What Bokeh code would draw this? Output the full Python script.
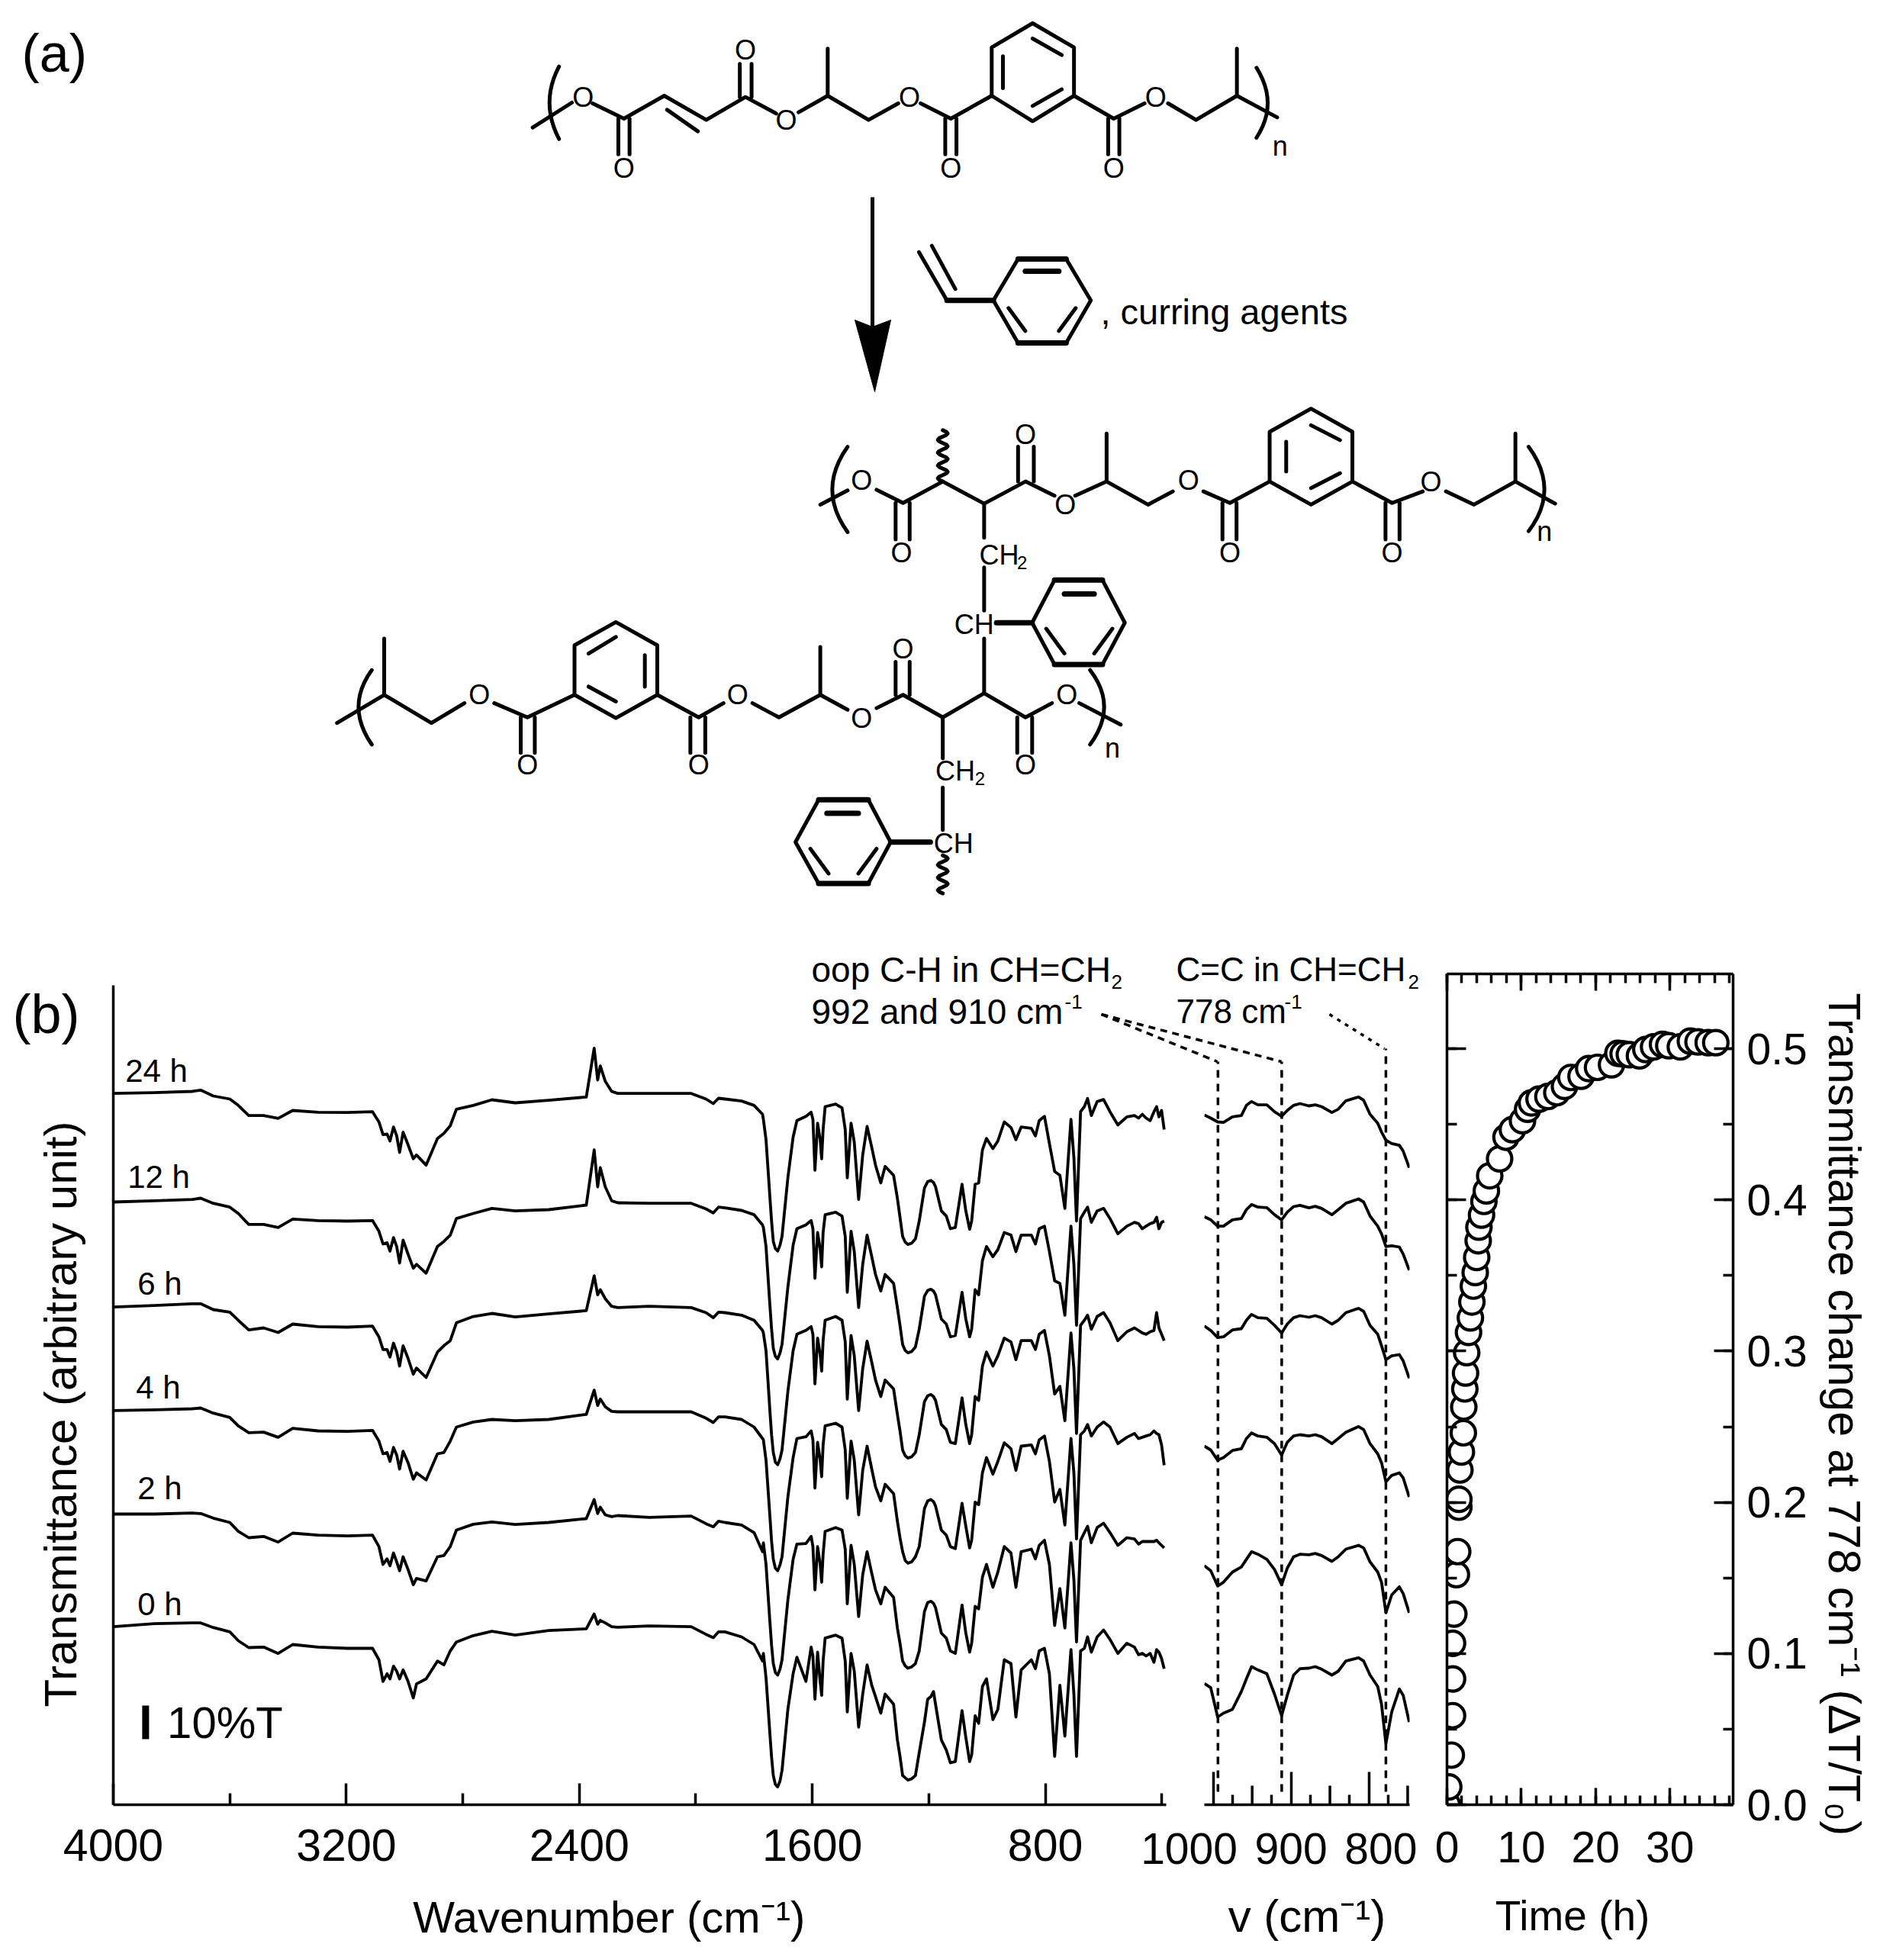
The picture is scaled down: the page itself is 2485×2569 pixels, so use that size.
import numpy as np
from bokeh.plotting import figure
from bokeh.models import Range1d, FixedTicker, LinearAxis, SingleIntervalTicker, CustomJSTickFormatter, NumeralTickFormatter
from bokeh.core.properties import value
from bokeh.embed import file_html
from bokeh.resources import INLINE

FONT = "Liberation Sans"
W, H = 2469, 2553
NB = "\u00a0"

# ---------- spectra: wavenumber (cm-1) and transmittance (arbitrary unit, 130 units = 10 %T)
WN_HIGH = [4000,3859,3729,3700,3657,3600,3571,3535,3484,3434,3384,3297,3196,3110,3088,3074,3060,3050,3038,3027,
           3017,3005,2988,2970,2959,2926,2887,2865,2843,2822,2764,2700,2620,2505,2376,2349,2337,2328,2311,2289,
           2268,2160,2016,1965,1940,1922,1900,1843,1800,1771]
WN_FP = [1768,1759,1746,1734,1719,1704,1684,1666,1653,1622,1604,1598,1591,1582,1573,1568,1563,1556,1520,1498,
         1487,1480,1467,1456,1441,1427,1412,1396,1383,1365,1350,1321,1308,1290,1272,1246,1233,1215,1193,1177,
         1157,1140,1126,1109,1086,1073,1060,1053,1041,1029,1016,1002,980,963,941,918,901,883,848,834,
         821,803,786,768,750,733,712,702,693,679,666,655,642,622,600,578,551,520,494,480,
         467,454,440,427,418,410,401,392]
WN_EXTRA = [1740,1727,1711,1299,1281,1259,1204,1184]

T24_HIGH = [2797,2800,2805,2810,2787,2775,2750,2710,2710,2699,2730,2723,2722,2725,2685,2635,2637,2610,2665,2630,
            2565,2645,2595,2540,2555,2515,2620,2640,2670,2735,2750,2772,2760,2770,2783,2975,2850,2905,2845,2805,
            2797,2797,2797,2775,2757,2778,2775,2767,2750,2715]
T12_HIGH = [2370,2375,2380,2385,2365,2350,2325,2282,2282,2270,2303,2297,2295,2297,2255,2205,2210,2177,2230,2195,
            2130,2220,2165,2110,2125,2090,2195,2215,2240,2305,2325,2345,2335,2340,2358,2575,2430,2505,2430,2375,
            2367,2365,2365,2343,2327,2350,2347,2337,2320,2280]
T6_HIGH = [1957,1963,1970,1970,1947,1937,1905,1867,1875,1857,1890,1880,1878,1882,1840,1790,1790,1760,1815,1780,
           1725,1805,1755,1693,1717,1680,1780,1805,1825,1895,1920,1932,1918,1930,1943,2080,2005,2025,1990,1960,
           1955,1960,1955,1935,1915,1937,1935,1925,1905,1865]
T4_HIGH = [1550,1553,1557,1560,1540,1523,1490,1463,1465,1445,1480,1470,1468,1472,1430,1380,1385,1350,1405,1375,
           1320,1390,1345,1280,1305,1277,1380,1385,1430,1485,1505,1515,1510,1515,1535,1630,1570,1595,1565,1547,
           1545,1545,1545,1520,1503,1525,1525,1515,1485,1440]
T2_HIGH = [1143,1143,1147,1145,1127,1110,1075,1050,1055,1033,1068,1060,1057,1060,1015,945,967,940,990,955,
           920,975,925,865,890,880,975,980,1015,1080,1103,1112,1102,1110,1125,1200,1145,1170,1140,1133,
           1137,1130,1135,1105,1093,1115,1110,1100,1070,995]
T0_HIGH = [700,712,715,715,697,680,645,618,620,595,630,620,615,615,570,485,515,495,545,525,
           495,530,485,420,475,495,565,550,605,640,665,682,667,685,692,750,710,725,715,700,
           698,703,700,670,657,680,680,660,630,565]

T24_FP = [2695,2615,2395,2215,2177,2235,2465,2625,2690,2707,2723,2695,2495,2680,2615,2540,2655,2745,2755,2740,
          2655,2465,2680,2605,2380,2555,2667,2585,2515,2445,2510,2475,2385,2235,2203,2225,2295,2425,2455,2430,
          2335,2315,2265,2270,2440,2335,2263,2295,2440,2445,2575,2620,2580,2610,2685,2663,2615,2665,2660,2630,
          2690,2707,2600,2490,2475,2345,2695,2545,2295,2725,2745,2777,2710,2765,2773,2725,2673,2705,2710,2700,
          2715,2700,2690,2725,2745,2705,2730,2655]
T12_FP = [2270,2195,1970,1795,1753,1810,2035,2200,2265,2280,2297,2265,2070,2250,2185,2115,2250,2320,2330,2315,
          2235,2015,2255,2175,1955,2125,2240,2155,2085,2020,2085,2050,1955,1810,1777,1800,1870,2000,2027,2005,
          1910,1890,1840,1845,2015,1910,1840,1870,2025,2005,2140,2195,2155,2183,2250,2240,2175,2240,2240,2205,
          2265,2275,2175,2060,2050,1925,2275,2125,1885,2305,2330,2350,2290,2335,2345,2305,2245,2275,2290,2285,
          2265,2275,2285,2290,2310,2265,2290,2295]
T6_FP = [1855,1785,1555,1385,1337,1395,1625,1785,1850,1865,1880,1850,1655,1835,1770,1705,1825,1905,1920,1905,
         1820,1595,1845,1765,1550,1715,1823,1740,1670,1605,1670,1635,1535,1395,1363,1385,1455,1585,1613,1590,
         1495,1475,1425,1420,1600,1495,1420,1455,1605,1590,1725,1780,1725,1765,1835,1820,1750,1825,1825,1790,
         1850,1865,1765,1615,1645,1510,1855,1715,1460,1885,1905,1925,1870,1920,1935,1895,1825,1860,1875,1865,
         1855,1850,1860,1865,1935,1875,1850,1825]
T4_FP = [1435,1355,1140,965,920,975,1210,1365,1440,1447,1470,1435,1245,1425,1355,1290,1415,1490,1500,1485,
         1395,1205,1430,1355,1140,1315,1410,1320,1250,1195,1260,1223,1115,995,950,975,1015,1165,1200,1175,
         1080,1060,1015,1007,1185,1095,1010,1040,1190,1180,1305,1365,1300,1350,1423,1400,1315,1410,1415,1380,
         1435,1450,1350,1190,1240,1100,1440,1305,1045,1455,1470,1495,1450,1485,1505,1485,1420,1445,1460,1440,
         1445,1450,1455,1470,1460,1455,1415,1335]
T2_FP = [1030,945,725,555,510,570,805,965,1025,1027,1055,1015,845,1015,945,875,985,1075,1090,1080,
         1005,790,1020,945,740,905,995,910,845,790,855,815,695,565,537,555,605,760,800,775,
         675,655,605,595,785,675,600,635,780,770,895,945,855,915,1015,990,855,995,1005,967,
         1020,1040,945,705,850,695,1030,885,640,1040,1070,1095,1030,1090,1107,1070,1020,1050,1045,1025,
         1035,1035,1035,1035,1040,1030,1020,1010]
T0_FP = [595,500,285,115,70,135,375,515,580,485,620,585,415,600,485,430,565,655,667,655,
         565,365,595,525,305,435,550,470,425,360,435,395,255,115,97,115,205,325,425,395,
         255,215,165,170,370,265,170,195,350,320,465,495,335,375,570,555,345,530,570,535,
         605,615,515,190,470,270,610,435,190,605,615,660,600,660,687,650,595,635,620,590,
         595,585,595,560,610,600,575,535]

T24_EX = [2295,2187,2200,2310,2212,2208,2450,2447]
T12_EX = [1871,1763,1776,1885,1786,1782,2022,2020]
T6_EX = [1455,1347,1360,1470,1372,1368,1608,1605]
T4_EX = [1038,930,943,1050,960,955,1195,1192]
T2_EX = [628,520,533,635,546,542,795,792]
T0_EX = [188,80,93,190,106,102,415,445]

# ---------- expanded region
WN_MID = [1011.5,1003.3,994.4,986.9,975.4,963.9,957.4,950.8,942.6,931.1,921.3,912.1,904.9,896.7,888.5,877,868.9,860.7,
          847.5,839.3,829.5,813.1,806.6,798.4,788.5,783.6,778,770.5,760.7,755.7,748]
M24 = [2712,2700,2685,2683,2705,2710,2750,2765,2752,2752,2725,2707,2730,2750,2757,2748,2752,2745,2722,2735,2768,2783,2770,2715,2680,2645,2613,2600,2593,2570,2505]
M12 = [2312,2300,2275,2275,2300,2305,2340,2360,2350,2348,2320,2300,2330,2352,2357,2347,2353,2345,2320,2340,2365,2382,2370,2315,2275,2245,2195,2198,2193,2165,2102]
M6 = [1882,1865,1837,1840,1867,1872,1905,1928,1915,1913,1885,1855,1890,1915,1923,1917,1923,1915,1890,1905,1935,1952,1940,1885,1850,1805,1750,1765,1770,1745,1677]
M4 = [1410,1395,1355,1365,1393,1400,1440,1462,1450,1445,1420,1375,1425,1450,1455,1450,1455,1447,1420,1440,1465,1487,1475,1420,1380,1345,1270,1295,1305,1285,1210]
M2 = [940,920,860,875,915,935,965,995,985,965,925,865,930,975,985,983,988,980,957,975,1005,1020,1010,955,915,875,755,825,857,830,755]
M0 = [477,460,345,360,375,445,495,543,530,515,435,350,430,510,535,537,543,533,510,525,565,578,565,510,465,395,240,365,455,430,325]
BAND_WN = [994, 912, 778]

# ---------- kinetics
TIME_H = [0.05,0.24,0.58,0.75,0.75,0.75,0.92,1.27,1.44,1.6,1.6,1.74,1.94,2.2,2.26,2.4,2.5,2.65,2.9,3.15,3.35,3.55,3.8,4.0,4.2,4.3,4.65,4.97,5.3,5.75,7.08,
          7.94,8.8,10.16,10.85,11.36,12.39,13.58,14.78,15.81,16.67,18.04,19.07,20.26,22.14,23.0,23.7,24.54,25.9,26.76,27.8,29.0,29.85,31.4,32.75,33.78,35.15,36.17]
DELTA = [0.0,0.0118,0.0328,0.0589,0.0832,0.1068,0.1261,0.1522,0.1674,0.1968,0.202,0.2214,0.2333,0.246,0.263,0.275,0.2855,0.299,0.3124,0.322,0.3325,0.343,0.352,0.362,0.373,0.382,0.39,0.399,0.406,0.416,0.4272,
         0.4415,0.4465,0.4524,0.46,0.4642,0.4667,0.4684,0.4709,0.4751,0.481,0.4818,0.4869,0.4877,0.4894,0.497,0.4966,0.4961,0.4953,0.4995,0.5012,0.5029,0.502,0.5012,0.505,0.5045,0.504,0.504]

HOURS = ["24 h","12 h","6 h","4 h","2 h","0 h"]
HOUR_WN = [3959,3951,3917,3922,3917,3917]
HOUR_Y = [2886,2469,2049,1641,1245,789]


def base(**kw):
    p = figure(width=W, height=H, output_backend="svg", toolbar_location=None,
               background_fill_color=None, border_fill_color=None, outline_line_color=None, **kw)
    p.grid.visible = False
    return p


def style_axis(ax, tick=57, title=56):
    ax.axis_line_color = "black"
    ax.axis_line_width = 3.5
    ax.major_tick_line_color = "black"
    ax.major_tick_line_width = 3.5
    ax.minor_tick_line_color = "black"
    ax.minor_tick_line_width = 3.5
    ax.major_tick_out = 0
    ax.minor_tick_out = 0
    ax.major_label_text_font = FONT
    ax.major_label_text_font_size = f"{tick}px"
    ax.major_label_text_color = "black"
    ax.axis_label_text_font = FONT
    ax.axis_label_text_font_style = "normal"
    ax.axis_label_text_font_size = f"{title}px"
    ax.axis_label_text_color = "black"


# ================ overlay: structures and annotations (page pixels)
ov = base(x_range=Range1d(8, 2477), y_range=Range1d(2561, 8), min_border=0)
ov.xaxis.visible = False
ov.yaxis.visible = False


def top(pts):
    return [(650 + x / 1.363, 20 + y / 3) for x, y in pts]


def mid(pts):
    return [(400 + x / 0.922, 520 + y / 2.306) for x, y in pts]


def draw(T, lines, width=5):
    for pts in lines:
        q = T(pts)
        ov.line([a for a, _ in q], [b for _, b in q], line_color="black", line_width=width,
                line_join="round", line_cap="round")


def label(T, items, size=36):
    for t, x, y in items:
        (a, b), = T([(x, y)])
        ov.text([a], [b], text=[t], text_font=value(FONT), text_font_size=f"{size}px",
                text_align="center", text_baseline="middle", text_color="black")


def arc(a, b, c):
    s = np.linspace(0, 1, 13)
    return [((1 - u) ** 2 * a[0] + 2 * u * (1 - u) * b[0] + u ** 2 * c[0],
             (1 - u) ** 2 * a[1] + 2 * u * (1 - u) * b[1] + u ** 2 * c[1]) for u in s]


def wave(x, y0, y1, amp, n):
    ys = np.linspace(y0, y1, n * 8 + 1)
    return [(x + amp * np.sin((v - y0) / (y1 - y0) * n * 2 * np.pi), v) for v in ys]


TOP_BONDS = [
    [(65,440),(135,342)], [(172,345),(228,405),(300,315),(375,410),(445,320),(500,385)],
    [(305,370),(360,455)], [(218,405),(218,545)], [(238,405),(238,545)],
    [(435,320),(435,190)], [(456,320),(456,190)], [(540,380),(592,315),(665,410),(718,345)], [(592,315),(592,130)],
    [(758,345),(812,405),(885,315)], [(802,405),(802,545)], [(822,405),(822,545)],
    [(885,315),(885,125),(958,30),(1032,125),(1032,315),(958,415),(885,315)],
    [(905,160),(905,285)], [(958,90),(1010,155)], [(1010,290),(958,355)],
    [(1032,315),(1103,405),(1158,345)], [(1093,405),(1093,545)], [(1113,405),(1113,545)],
    [(1200,345),(1250,410),(1323,315),(1395,400)], [(1323,315),(1323,130)],
    arc((112,200),(78,342),(112,485)), arc((1358,205),(1398,345),(1358,480)),
    [(755,930),(805,1120),(888,1120),(932,957),(1018,957),(1062,1120),(1018,1287),(932,1287),(888,1120)],
    [(778,905),(820,1075)], [(915,1150),(945,1240)], [(1035,1150),(1005,1240)],
]
TOP_THICK = [[(932,957),(1018,957)], [(945,1005),(1005,1005)], [(932,1287),(1018,1287)], [(805,1120),(888,1120)]]
TOP_ATOMS = [("O",155,320),("O",228,600),("O",445,135),("O",518,410),("O",738,320),("O",812,600),("O",1103,600),("O",1178,320),("n",1400,512)]

MID_BONDS = [
    [(622,325),(655,282)], [(690,280),(722,320),(770,255),(820,322),(870,255),(905,298)],
    [(713,320),(713,430)], [(730,320),(730,430)], [(861,255),(861,150)], [(880,255),(880,150)],
    [(930,298),(968,255),(1018,325),(1048,285)], [(968,255),(968,110)],
    [(1085,285),(1117,320),(1165,255)], [(1108,320),(1108,430)], [(1125,320),(1125,430)],
    [(1165,255),(1165,105),(1215,35),(1265,105),(1265,255),(1215,325),(1165,255)],
    [(1185,135),(1185,225)], [(1215,85),(1250,130)], [(1250,230),(1215,275)],
    [(1265,255),(1313,320),(1350,285)], [(1305,320),(1305,430)], [(1322,320),(1322,430)],
    [(1378,285),(1412,325),(1462,255),(1510,322)], [(1462,255),(1462,110)],
    arc((655,150),(618,280),(655,408)), arc((1478,150),(1516,280),(1478,405)),
    [(820,322),(820,425)], [(820,515),(820,645)], [(820,730),(820,895)],
    [(878,682),(905,553),(963,553),(990,682),(963,808),(905,808),(878,682)],
    [(895,700),(917,775)], [(975,700),(953,775)],
    [(770,968),(820,895),(870,968),(902,925)], [(935,925),(985,990)], [(770,968),(722,900),(690,940)],
    [(713,900),(713,800)], [(730,900),(730,800)], [(655,945),(622,900),(572,968),(540,925)], [(622,900),(622,755)],
    [(505,925),(475,968),(425,900)], [(465,968),(465,1075)], [(483,968),(483,1075)],
    [(425,900),(425,750),(375,680),(325,750),(325,900),(375,970),(425,900)],
    [(410,780),(410,875)], [(375,725),(342,775)], [(342,875),(375,920)],
    [(325,900),(268,968),(228,925)], [(260,968),(260,1075)], [(277,968),(277,1075)],
    [(192,925),(152,985),(95,900),(38,985)], [(95,900),(95,730)],
    arc((80,825),(48,935),(80,1050)), arc((948,825),(982,935),(948,1050)),
    [(860,968),(860,1075)], [(878,968),(878,1075)], [(770,968),(770,1092)], [(770,1180),(770,1308)],
    [(707,1345),(680,1217),(620,1217),(592,1345),(620,1470),(680,1470),(707,1345)],
    [(690,1365),(668,1440)], [(610,1365),(632,1440)],
    wave(770,100,255,6,4), wave(770,1385,1500,6,3),
]
MID_THICK = [[(835,682),(878,682)], [(905,553),(963,553)], [(917,595),(953,595)], [(905,808),(963,808)],
             [(707,1345),(755,1345)], [(620,1217),(680,1217)], [(630,1258),(668,1258)], [(620,1470),(680,1470)]]
MID_ATOMS = [("O",672,252),("O",720,470),("O",870,112),("O",918,325),("O",1067,252),("O",1117,470),("O",1313,470),("O",1360,255),("n",1497,405),
             ("CH",838,478),("CH",808,688),("O",722,760),("O",672,970),("O",522,900),("O",475,1112),("O",268,1112),("O",210,900),
             ("O",920,900),("O",870,1112),("n",975,1060),("CH",785,1130),("CH",783,1348)]
MID_SUBS = [("2",866,500),("2",815,1153)]

draw(top, TOP_BONDS); draw(top, TOP_THICK, 7)
draw(mid, MID_BONDS); draw(mid, MID_THICK, 7)
label(top, TOP_ATOMS); label(mid, MID_ATOMS); label(mid, MID_SUBS, 24)

# reaction arrow
ov.line([1143, 1143], [258, 430], line_color="black", line_width=5)
ov.patch([1120, 1143, 1167, 1146], [419, 428, 419, 513], fill_color="black", line_color="black", line_width=1)

ANNOT = [("(a)", 28, 69, 70), ("(b)", 16, 1328, 72), (", curring agents", 1442, 408, 47),
         ("oop C-H in CH=CH", 1063, 1270, 46), ("992 and 910 cm", 1063, 1325, 46),
         ("C=C in CH=CH", 1541, 1270, 44), ("778 cm", 1541, 1325, 44),
         ("2", 1456, 1286, 26), ("-1", 1395, 1312, 26), ("2", 1845, 1286, 26), ("-1", 1683, 1312, 26)]
for t, x, y, s in ANNOT:
    ov.text([x], [y], text=[t], text_font=value(FONT), text_font_size=f"{s}px", text_align="left",
            text_baseline="middle", text_color="black")

ov.line([1443, 1595], [1329, 1391], line_color="black", line_width=3.5, line_dash="9 7")
ov.line([1443, 1679], [1329, 1391], line_color="black", line_width=3.5, line_dash="9 7")
ov.line([1742, 1814], [1329, 1374], line_color="black", line_width=3.5, line_dash="5 7")

# ================ main spectra
Y_RANGE = (0, 3222)
mn = base(x_range=Range1d(4000, 385), y_range=Range1d(*Y_RANGE), min_border_left=140, min_border_right=949,
          min_border_top=1283, min_border_bottom=196)
for hi, fp, ex in [(T24_HIGH, T24_FP, T24_EX), (T12_HIGH, T12_FP, T12_EX), (T6_HIGH, T6_FP, T6_EX),
                   (T4_HIGH, T4_FP, T4_EX), (T2_HIGH, T2_FP, T2_EX), (T0_HIGH, T0_FP, T0_EX)]:
    pairs = sorted(zip(WN_HIGH + WN_FP + WN_EXTRA, hi + fp + ex), reverse=True)
    mn.line([a for a, _ in pairs], [b for _, b in pairs], line_color="black", line_width=3.8, line_join="round")
mn.text(HOUR_WN, HOUR_Y, text=HOURS, text_font=value(FONT), text_font_size="42px", text_align="left",
        text_baseline="middle", text_color="black")
mn.line([3889, 3889], [258, 390], line_color="black", line_width=9)
mn.text([3815], [324], text=["10%T"], text_font=value(FONT), text_font_size="58px", text_align="left",
        text_baseline="middle", text_color="black")
ax = mn.xaxis[0]
style_axis(ax, tick=59, title=58)
ax.ticker = FixedTicker(ticks=[4000, 3200, 2400, 1600, 800], minor_ticks=[3600, 2800, 2000, 1200, 400])
ax.major_tick_in = 28
ax.minor_tick_in = 15
ax.major_label_standoff = 32
ax.axis_label = "Wavenumber (cm⁻¹)" + NB * 5
ax.axis_label_standoff = 38
ay = mn.yaxis[0]
style_axis(ay, title=60)
ay.ticker = FixedTicker(ticks=[])
ay.major_tick_in = 0
ay.axis_label = "Transmittance (arbitrary unit)" + NB * 3
ay.axis_label_standoff = 36

# ================ expanded region
md = base(x_range=Range1d(1011.5, 747.5), y_range=Range1d(*Y_RANGE), min_border_left=1570, min_border_right=630,
          min_border_top=1283, min_border_bottom=196)
md.yaxis.visible = False
for s in (M24, M12, M6, M4, M2, M0):
    md.line(WN_MID, s, line_color="black", line_width=3.8, line_join="round")
md.line([BAND_WN[0]] * 2, [51, 2922], line_color="black", line_width=3.5, line_dash="10 8")
md.line([BAND_WN[1]] * 2, [51, 2922], line_color="black", line_width=3.5, line_dash="10 8")
md.line([BAND_WN[2]] * 2, [51, 2973], line_color="black", line_width=3.5, line_dash="10 8")
md.segment([950, 850, 750], [0, 0, 0], [950, 850, 750], [75, 75, 75], line_color="black", line_width=3.5)
ax = md.xaxis[0]
style_axis(ax, title=60)
ax.ticker = FixedTicker(ticks=[1000, 900, 800], minor_ticks=[975, 925, 875, 825, 775])
ax.major_tick_in = 43
ax.minor_tick_in = 13
ax.major_label_standoff = 25
ax.major_label_overrides = {1000: "1000" + NB * 4, 800: NB * 2 + "800"}
ax.axis_label = "v (cm⁻¹)"
ax.axis_label_standoff = 20

# ================ kinetics
rt = base(x_range=Range1d(0, 38.5), y_range=Range1d(0, 0.5495), min_border_left=1888, min_border_right=206,
          min_border_top=1268, min_border_bottom=196, y_axis_location="right")
rt.scatter(TIME_H, DELTA, size=32, marker="circle", fill_color="white", line_color="black", line_width=4.2)
ax = rt.xaxis[0]
style_axis(ax, title=55)
ax.ticker = SingleIntervalTicker(interval=10, num_minor_ticks=5)
ax.major_tick_in = 22
ax.minor_tick_in = 12
ax.major_label_standoff = 35
ax.axis_label = "Time (h)" + NB * 3
ax.axis_label_standoff = 36
ay = rt.yaxis[0]
style_axis(ay, title=59)
ay.ticker = SingleIntervalTicker(interval=0.1, num_minor_ticks=2)
ay.formatter = NumeralTickFormatter(format="0.0")
ay.major_tick_in = 25
ay.minor_tick_in = 13
ay.major_label_standoff = 18
ay.axis_label = NB * 4 + "Transmittance change at 778 cm⁻¹ (ΔT/T₀)"
ay.axis_label_standoff = 12

blank = CustomJSTickFormatter(code="return ''")
ta = LinearAxis(ticker=SingleIntervalTicker(interval=10, num_minor_ticks=5), formatter=blank)
style_axis(ta)
ta.major_tick_in = 22
ta.minor_tick_in = 12
rt.add_layout(ta, "above")
la = LinearAxis(ticker=SingleIntervalTicker(interval=0.1, num_minor_ticks=2), formatter=blank)
style_axis(la)
la.major_tick_in = 25
la.minor_tick_in = 13
rt.add_layout(la, "left")

for f in (mn, md, rt):
    f.margin = (-H, 0, 0, 8)
ov.margin = (8, 0, 0, 8)

open("out.html", "w").write(file_html([ov, mn, md, rt], INLINE))
